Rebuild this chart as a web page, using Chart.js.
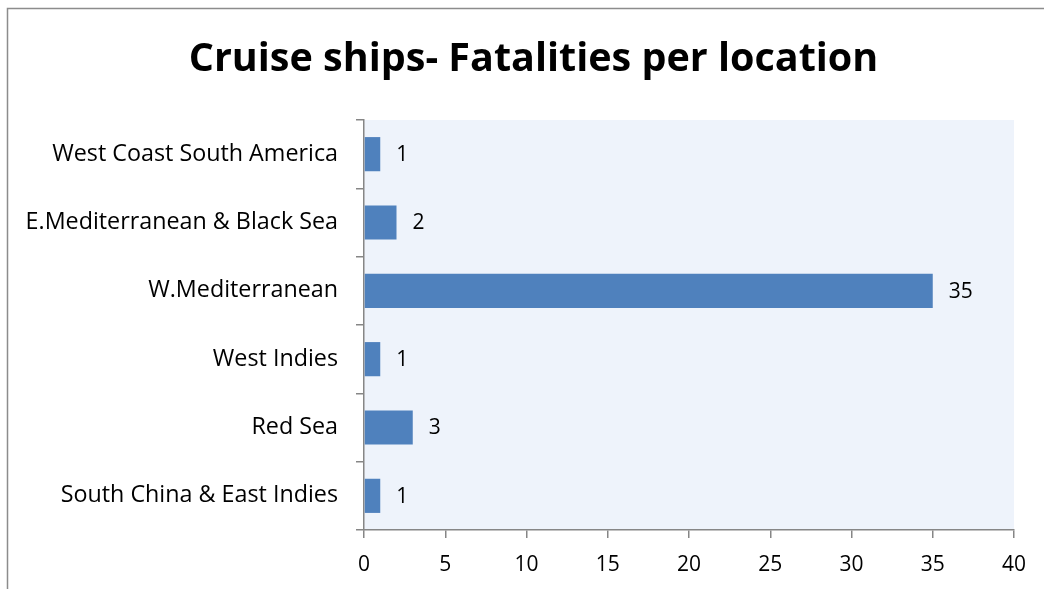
<!DOCTYPE html>
<html>
<head>
<meta charset="utf-8">
<script src="https://cdn.jsdelivr.net/npm/chart.js@4/dist/chart.umd.min.js"></script>
<style>
  html, body { margin: 0; padding: 0; background: #fff; }
  #wrap { width: 1044px; height: 589px; }
</style>
</head>
<body>
<div id="wrap"><canvas id="fatalities-chart"></canvas></div>
<script>
const chartTitle = "Cruise ships- Fatalities per location";
const locations = [
    "West Coast South America",
    "E.Mediterranean & Black Sea",
    "W.Mediterranean",
    "West Indies",
    "Red Sea",
    "South China & East Indies",
];
const fatalities = [1, 2, 35, 1, 3, 1];
const xTicks = [0, 5, 10, 15, 20, 25, 30, 35, 40];

const FONT = "'Open Sans', Lato, sans-serif";
const AXIS_GRAY = "#868686";

// outer frame, plot background and the title (centred on the framed area)
const frameAndBackground = {
    id: "frameAndBackground",
    beforeDraw(chart) {
        const { ctx, chartArea } = chart;
        ctx.save();
        ctx.fillStyle = "#EEF3FB";
        ctx.fillRect(chartArea.left, chartArea.top, chartArea.right - chartArea.left, chartArea.bottom - chartArea.top);
        ctx.strokeStyle = "#8c8c8c";
        ctx.lineWidth = 1.5;
        ctx.beginPath();
        ctx.moveTo(7.5, chart.height);
        ctx.lineTo(7.5, 8.5);
        ctx.lineTo(chart.width, 8.5);
        ctx.stroke();

        ctx.font = `bold 39.5px ${FONT}`;
        ctx.fillStyle = "#000";
        ctx.textAlign = "center";
        ctx.textBaseline = "middle";
        ctx.fillText(chartTitle, 533.5, 60);
        ctx.restore();
    },
};

// value labels to the right of each bar
const valueLabels = {
    id: "valueLabels",
    afterDatasetsDraw(chart) {
        const { ctx } = chart;
        const meta = chart.getDatasetMeta(0);
        ctx.save();
        ctx.font = `21px ${FONT}`;
        ctx.fillStyle = "#000";
        ctx.textAlign = "left";
        ctx.textBaseline = "middle";
        meta.data.forEach((bar, i) => {
            ctx.fillText(String(fatalities[i]), bar.x + 16, bar.y + 1);
        });
        ctx.restore();
    },
};

const ctx = document.getElementById("fatalities-chart").getContext("2d");

new Chart(ctx, {
    type: "bar",
    data: {
        labels: locations,
        datasets: [
            {
                label: "Fatalities",
                data: fatalities,
                backgroundColor: "#4F81BD",
                categoryPercentage: 1,
                barPercentage: 0.5,
            },
        ],
    },
    options: {
        indexAxis: "y",
        responsive: true,
        maintainAspectRatio: false,
        animation: false,
        layout: {
            padding: { left: 0, right: 30, top: 120, bottom: 0 },
        },
        scales: {
            x: {
                min: 0,
                max: 40,
                afterBuildTicks: (scale) => {
                    scale.ticks = xTicks.map((v) => ({ value: v }));
                },
                afterFit: (scale) => {
                    scale.height = 59;
                },
                grid: {
                    drawOnChartArea: false,
                    drawTicks: true,
                    tickLength: 8,
                    color: AXIS_GRAY,
                    lineWidth: 1.5,
                },
                border: { color: AXIS_GRAY, width: 1.5 },
                ticks: {
                    color: "#000",
                    padding: 14,
                    font: { family: FONT, size: 21 },
                },
            },
            y: {
                afterFit: (scale) => {
                    scale.width = 364;
                },
                grid: {
                    offset: true,
                    drawOnChartArea: false,
                    tickLength: 8,
                    color: AXIS_GRAY,
                    lineWidth: 1.5,
                },
                border: { color: AXIS_GRAY, width: 1.5 },
                ticks: {
                    color: "#000",
                    padding: 18,
                    font: { family: FONT, size: 23.3 },
                },
            },
        },
        plugins: {
            legend: { display: false },
            tooltip: { enabled: false },
            title: { display: false },
        },
    },
    plugins: [frameAndBackground, valueLabels],
});
</script>
</body>
</html>
